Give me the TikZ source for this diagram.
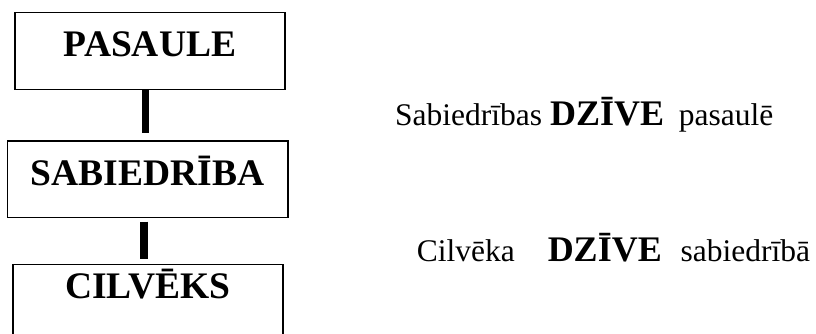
\documentclass[tikz,border=0pt]{standalone}
\usepackage{fontspec}
\setmainfont{Liberation Serif}
\begin{document}
\begin{tikzpicture}[x=1pt,y=-1pt,
  box/.style={draw=black, line width=1.3pt, rectangle, inner sep=0pt,
    font=\fontsize{37.5}{44}\selectfont\bfseries},
  conn/.style={line width=7.6pt},
  reg/.style={font=\fontsize{31.5}{38}\selectfont},
  big/.style={font=\fontsize{36}{43}\selectfont\bfseries}
]
\useasboundingbox (0,0) rectangle (816,334);
\node[box, minimum width=270pt, minimum height=76.6pt, text height=30pt, text depth=18.6pt] (b1) at (150,51) {PASAULE};
\node[box, minimum width=280.7pt, minimum height=76.7pt, text height=30pt, text depth=18.6pt] (b2) at (147.7,179.35) {SABIEDRĪBA};
\node[box, minimum width=270pt, minimum height=80pt, text height=20pt, text depth=32pt] (b3) at (148,304.3) {CILVĒKS};
\draw[conn, shorten >=7.7pt] ([xshift=-4.5pt]b1.south) -- ([xshift=-4.5pt]b1.south |- b2.north);
\draw[conn, shorten <=3.3pt, shorten >=5pt] ([xshift=-4pt]b2.south) -- ([xshift=-4pt]b2.south |- b3.north);
\node[anchor=base west, inner sep=0pt, reg] (t1) at (395,125.7)
  {Sabiedrības {\fontsize{36}{43}\selectfont\bfseries DZĪVE}\hspace{7pt} pasaulē};
\node[anchor=base west, inner sep=0pt, reg] (t2) at (416.7,261)
  {Cilvēka\hspace{25pt} {\fontsize{36}{43}\selectfont\bfseries DZĪVE}\hspace{11pt} sabiedrībā};
\end{tikzpicture}
\end{document}
